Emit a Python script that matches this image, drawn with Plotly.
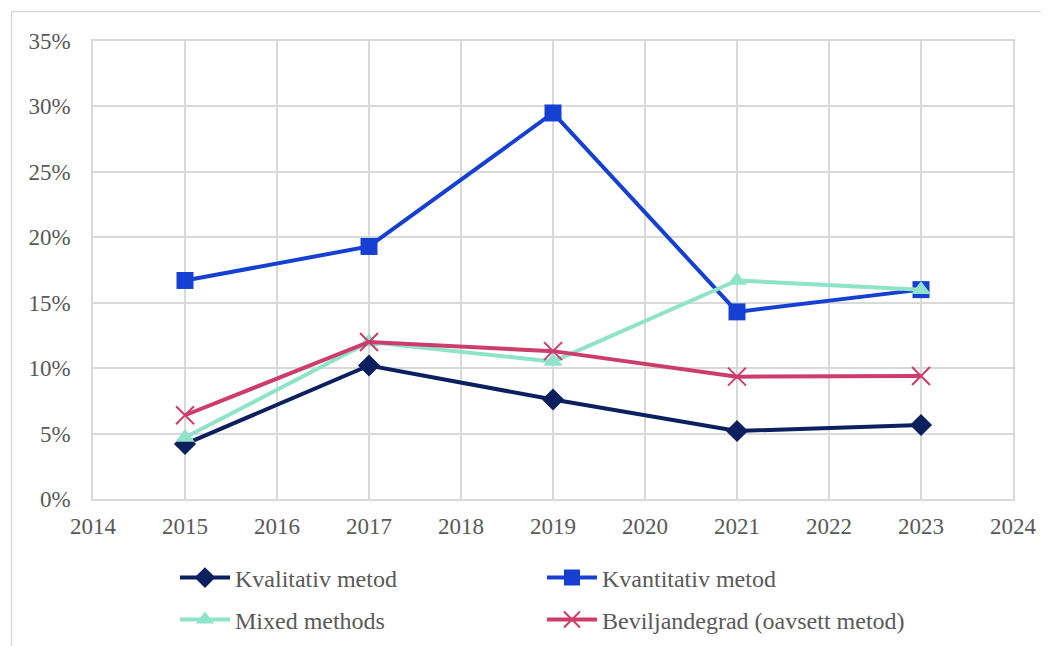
import plotly.graph_objects as go

years = [2015, 2017, 2019, 2021, 2023]
kvalitativ = [0.042, 0.102, 0.076, 0.052, 0.0565]
kvantitativ = [0.167, 0.193, 0.295, 0.143, 0.160]
mixed = [0.047, 0.120, 0.105, 0.167, 0.160]
beviljandegrad = [0.064, 0.120, 0.113, 0.0935, 0.094]

names = ["Kvalitativ metod", "Kvantitativ metod", "Mixed methods", "Beviljandegrad (oavsett metod)"]
colors = ["#0c1f5e", "#1640d2", "#8fe3c8", "#cc3d6b"]

FONT = "Liberation Serif"
TXT = "#595959"
GRID = "#d9d9d9"

fig = go.Figure()
fig.add_trace(go.Scatter(x=years, y=kvalitativ, name=names[0], mode="lines+markers",
                         line=dict(color=colors[0], width=4),
                         marker=dict(symbol="diamond", size=17, color=colors[0]),
                         legend="legend"))
fig.add_trace(go.Scatter(x=years, y=kvantitativ, name=names[1], mode="lines+markers",
                         line=dict(color=colors[1], width=4),
                         marker=dict(symbol="square", size=17, color=colors[1]),
                         legend="legend"))
fig.add_trace(go.Scatter(x=years, y=mixed, name=names[2], mode="lines+markers",
                         line=dict(color=colors[2], width=4),
                         marker=dict(symbol="triangle-up", size=17, color=colors[2]),
                         legend="legend2"))
fig.add_trace(go.Scatter(x=years, y=beviljandegrad, name=names[3], mode="lines+markers",
                         line=dict(color=colors[3], width=4),
                         marker=dict(symbol="x-thin", size=18, color=colors[3],
                                     line=dict(color=colors[3], width=2)),
                         legend="legend2"))

legend_common = dict(orientation="h", xanchor="left", yanchor="middle",
                     xref="container", yref="container",
                     font=dict(family=FONT, size=24, color=TXT),
                     entrywidth=302, entrywidthmode="pixels",
                     bgcolor="rgba(0,0,0,0)", itemwidth=50)

fig.update_layout(
    width=1041, height=638,
    margin=dict(l=85, r=36, t=33, b=147),
    paper_bgcolor="white", plot_bgcolor="white",
    font=dict(family=FONT, size=23, color=TXT),
    showlegend=True,
    legend=dict(x=0.1604, y=0.1066, **legend_common),
    legend2=dict(x=0.1604, y=0.0408, **legend_common),
    xaxis=dict(range=[2014, 2024], dtick=1, tick0=2014, showgrid=True,
               gridcolor=GRID, gridwidth=1.5, showline=True, linecolor=GRID,
               linewidth=1.5, mirror=True, zeroline=False, ticks="",
               ticklabelstandoff=6, tickfont=dict(family=FONT, size=23, color=TXT)),
    yaxis=dict(range=[0, 0.35], dtick=0.05, tickformat=".0%", showgrid=True,
               gridcolor=GRID, gridwidth=1.5, showline=True, linecolor=GRID,
               linewidth=1.5, mirror=True, zeroline=False, ticks="",
               ticklabelstandoff=16, tickfont=dict(family=FONT, size=23, color=TXT)),
)

# outer chart frame (top and left edges)
fig.add_shape(type="line", xref="paper", yref="paper",
              x0=-0.0886, x1=1.04, y0=1.0644, y1=1.0644,
              line=dict(color=GRID, width=1.5))
fig.add_shape(type="line", xref="paper", yref="paper",
              x0=-0.0886, x1=-0.0886, y0=1.0644, y1=-0.33,
              line=dict(color=GRID, width=1.5))

fig.write_html("out.html")
